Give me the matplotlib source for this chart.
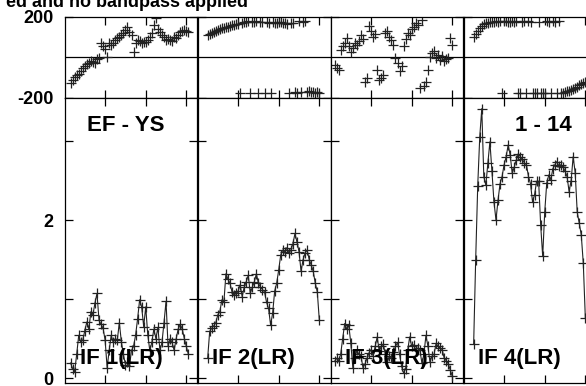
from __future__ import annotations

import numpy as np
from matplotlib import pyplot as plt

W, H = 586, 386

TITLE = "ed and no bandpass applied"
BASELINE = "EF - YS"
TIMERANGE = "1 - 14"
IF_LABELS = ["IF 1(LR)", "IF 2(LR)", "IF 3(LR)", "IF 4(LR)"]

# channels per IF
ch_if1 = np.arange(3, 62)
ch_if2 = np.arange(5, 61)
ch_if3 = np.arange(2, 61)
ch_if4 = np.arange(5, 61)

# amplitudes (Jy)
amp_if1 = [.19, .12, .08, .30, .54, .45, .48, .60, .71, .62,
           .84, .80, .95, 1.07, .73, .68, .63, .48, .13, .35,
           .54, .45, .50, .48, .70, .46, .30, .17, .20, .15,
           .35, .40, .54, .75, .99, .90, .65, .90, .55, .35,
           .45, .62, .50, .64, .35, .45, .70, .97, .40, .50,
           .45, .35, .50, .62, .68, .62, .50, .40, .30]
amp_if2 = [.25, .59, .63, .66, .70, .80, .84, .99, .96, 1.32,
           1.25, 1.20, 1.09, 1.05, 1.07, 1.10, 1.18, 1.03, 1.15, 1.22,
           1.30, 1.07, 1.15, 1.22, 1.32, 1.20, 1.15, 1.12, 1.09, .96,
           .88, .67, .82, 1.10, 1.20, 1.37, 1.56, 1.62, 1.60, 1.65,
           1.58, 1.62, 1.70, 1.83, 1.72, 1.60, 1.35, 1.50, 1.58, 1.62,
           1.50, 1.43, 1.35, 1.20, 1.09, .73]
amp_if3 = [.21, .25, .22, .30, .50, .69, .62, .67, .44, .13,
           .25, .35, .30, .28, .13, .18, .25, .32, .36, .28,
           .40, .52, .34, .40, .43, .30, .20, .28, .25, .33,
           .40, .45, .30, .15, .06, .12, .35, .52, .40, .42,
           .35, .38, .36, .19, .30, .54, .40, .20, .28, .30,
           .44, .40, .38, .36, .25, .22, .18, .10, .02]
amp_if4 = [.43, 1.50, 2.43, 3.05, 3.41, 2.55, 2.44, 2.72, 2.99, 2.62,
           2.23, 2.00, 2.25, 2.46, 2.55, 2.70, 2.80, 2.95, 2.82, 2.59,
           2.67, 2.76, 2.84, 2.80, 2.77, 2.72, 2.70, 2.55, 2.46, 2.23,
           2.32, 2.49, 2.49, 1.94, 1.54, 2.10, 2.47, 2.57, 2.51, 2.65,
           2.70, 2.74, 2.68, 2.70, 2.67, 2.62, 2.55, 2.36, 2.50, 2.80,
           2.60, 2.10, 1.96, 1.81, 1.45, .76]

# phases (deg)
phs_if1 = [-127, -115, -100, -90, -85, -70, -52, -45, -35, -27,
           -20, -25, -27, -10, -3, 72, 55, 40, 2, 72,
           60, 72, 85, 96, 100, 110, 120, 136, 151, 125,
           111, 27, 70, 86, 80, 72, 75, 77, 85, 100,
           121, 160, 195, 140, 126, 110, 101, 86, 90, 86,
           80, 101, 95, 110, 126, 130, 136, 130, 126]
phs_if2 = [111, 115, 120, 125, 128, 135, 138, 142, 145, 150,
           148, 155, 158, 160, 162, 165, -177, 169, 172, 175,
           178, -178, 176, 174, 178, -177, 172, 176, -178, 175,
           170, -177, 172, 168, 170, 175, 172, 168, 170, 165,
           -175, 170, 168, -172, -175, 178, -170, 176, 180, -172,
           -168, -170, -172, -175, -170, -175]
phs_if3 = [-40, -54, -65, 37, 55, 70, 96, 53, 25, 45,
           70, 60, 80, 111, 90, -120, -105, 152, 130, 100,
           115, -62, -114, -101, -90, 121, 127, 102, 85, 62,
           -3, -27, -70, -45, 53, 90, 121, 110, 140, 150,
           170, 160, -152, 185, -140, -120, -62, 0, 22, 30,
           -3, 10, -15, 5, -20, -10, -5, 95, 60]
phs_if4 = [100, 115, 130, 145, 155, 162, 168, 170, 172, 175,
           176, 178, 174, 177, -178, 179, 178, 174, 176, 178,
           175, 177, -176, -177, 176, 178, -175, 177, 175, -176,
           -177, -176, 176, -178, -175, -177, 178, 175, -176, 177,
           176, -176, 178, -177, -175, -172, -168, -165, -160, -155,
           -150, -145, -138, -132, -128, -122]

plt.rcParams['font.family'] = ['Liberation Sans', 'DejaVu Sans']
plt.rcParams['font.weight'] = 'bold'


def px_axes(fig, left, top, width, height):
    return fig.add_axes([left / W, 1 - (top + height) / H, width / W, height / H])


def style(ax):
    for s in ax.spines.values():
        s.set_linewidth(0.9)
    ax.tick_params(direction='in', top=True, right=True, length=6, width=0.9,
                   labelsize=13, pad=8)
    ax.set_xlim(0, 65.5)
    ax.set_xticks([20, 40, 60])
    ax.set_xticklabels([])


def main():
    fig = plt.figure(figsize=(W / 100, H / 100), dpi=100)
    chans = [ch_if1, ch_if2, ch_if3, ch_if4]
    amps = [amp_if1, amp_if2, amp_if3, amp_if4]
    phases = [phs_if1, phs_if2, phs_if3, phs_if4]

    for i in range(4):
        left = 64.5 + 133 * i
        axp = px_axes(fig, left, 16.7, 133, 81)
        axa = px_axes(fig, left, 97.7, 133, 285.3)

        # phase panel
        style(axp)
        axp.set_ylim(-200, 200)
        axp.axhline(0, color='black', lw=0.9)
        axp.plot(chans[i], phases[i], ls='none', marker='+', ms=7.5, mew=0.9, color='#222222')
        axp.set_yticks([-200, 200])

        # amplitude panel
        style(axa)
        axa.set_ylim(-0.063, 3.548)
        axa.plot(chans[i], amps[i], color='#222222', lw=0.8, marker='+', ms=7.5, mew=0.9)
        axa.set_yticks([0, 1, 2, 3])

        if i == 0:
            axp.set_yticklabels(['-200', '200'])
            axa.set_yticklabels(['0', '', '2', ''])
        else:
            axp.set_yticklabels([])
            axa.set_yticklabels([])

        fig.text((left + 15) / W, 1 - 364 / H, IF_LABELS[i], fontsize=16,
                 fontweight='bold', ha='left', va='baseline')

    fig.text(87 / W, 1 - 131 / H, BASELINE, fontsize=16, fontweight='bold',
             ha='left', va='baseline')
    fig.text(515 / W, 1 - 131 / H, TIMERANGE, fontsize=16, fontweight='bold',
             ha='left', va='baseline')
    fig.text(248 / W, 1 - 7 / H, TITLE, fontsize=13, fontweight='bold',
             ha='right', va='baseline')

    fig.savefig("out.png", dpi=100)


if __name__ == '__main__':
    main()
